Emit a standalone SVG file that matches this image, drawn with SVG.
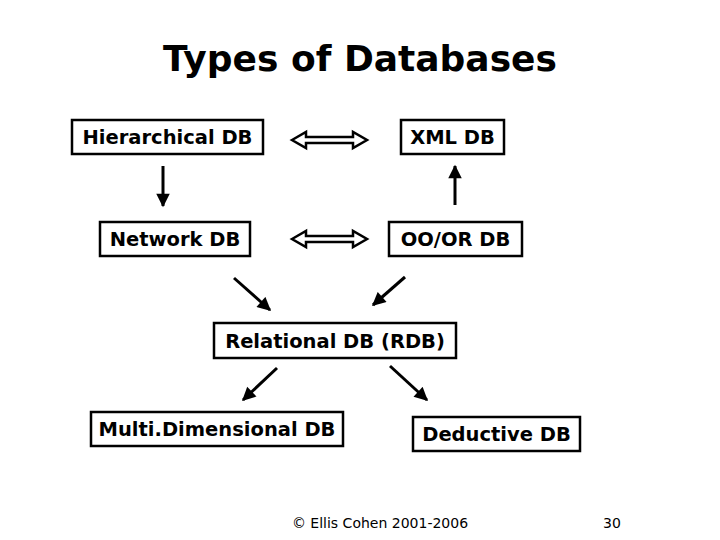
<svg xmlns="http://www.w3.org/2000/svg" width="720" height="540" viewBox="0 0 720 540">
<defs>
<style>
.box{fill:#fff;stroke:#000;stroke-width:2.5}
.t{font-family:"DejaVu Sans",Verdana,sans-serif;font-weight:bold;font-size:19.5px;text-anchor:middle}
.ln{stroke:#000;stroke-width:3;fill:none}
.dbl{fill:#fff;stroke:#000;stroke-width:2.5}
</style>
<marker id="ah" viewBox="0 0 10 10" refX="9" refY="5" markerWidth="5" markerHeight="4.5" orient="auto" markerUnits="strokeWidth"><path d="M0,0 L10,5 L0,10 Z" fill="#000"/></marker>
</defs>
<rect width="720" height="540" fill="#fff"/>
<text x="360" y="71" font-family="DejaVu Sans,Verdana,sans-serif" font-weight="bold" font-size="36" text-anchor="middle">Types of Databases</text>
<g id="hier"><rect class="box" x="72" y="120" width="191" height="34"/><text class="t" x="167.5" y="144">Hierarchical DB</text></g>
<g id="xml"><rect class="box" x="401" y="120" width="103" height="34"/><text class="t" x="452.5" y="144">XML DB</text></g>
<g id="net"><rect class="box" x="100" y="222" width="150" height="34"/><text class="t" x="175" y="246">Network DB</text></g>
<g id="oo"><rect class="box" x="389" y="222" width="133" height="34"/><text class="t" x="455.5" y="246">OO/OR DB</text></g>
<g id="rel"><rect class="box" x="214" y="323" width="242" height="35"/><text class="t" x="335" y="348">Relational DB (RDB)</text></g>
<g id="multi"><rect class="box" x="91" y="412" width="252" height="34"/><text class="t" x="217" y="436">Multi.Dimensional DB</text></g>
<g id="ded"><rect class="box" x="413" y="417" width="167" height="34"/><text class="t" x="496.5" y="441">Deductive DB</text></g>
<g id="connectors">
<path class="dbl" d="M292,140 L306,132 L306,137 L353,137 L353,132 L367,140 L353,148 L353,143 L306,143 L306,148 Z"/>
<path class="dbl" d="M292,239 L306,231 L306,236 L353,236 L353,231 L367,239 L353,247 L353,242 L306,242 L306,247 Z"/>
<line class="ln" x1="163" y1="166" x2="163" y2="206" marker-end="url(#ah)"/>
<line class="ln" x1="455" y1="205" x2="455" y2="166" marker-end="url(#ah)"/>
<line class="ln" x1="234" y1="278" x2="270" y2="310" marker-end="url(#ah)"/>
<line class="ln" x1="405" y1="277" x2="373" y2="305" marker-end="url(#ah)"/>
<line class="ln" x1="277" y1="368" x2="243" y2="400" marker-end="url(#ah)"/>
<line class="ln" x1="390" y1="366" x2="427" y2="400" marker-end="url(#ah)"/>
</g>
<text x="380" y="528" font-family="DejaVu Sans,Verdana,sans-serif" font-size="14" text-anchor="middle">© Ellis Cohen 2001-2006</text>
<text x="612" y="528" font-family="DejaVu Sans,Verdana,sans-serif" font-size="14" text-anchor="middle">30</text>
</svg>
